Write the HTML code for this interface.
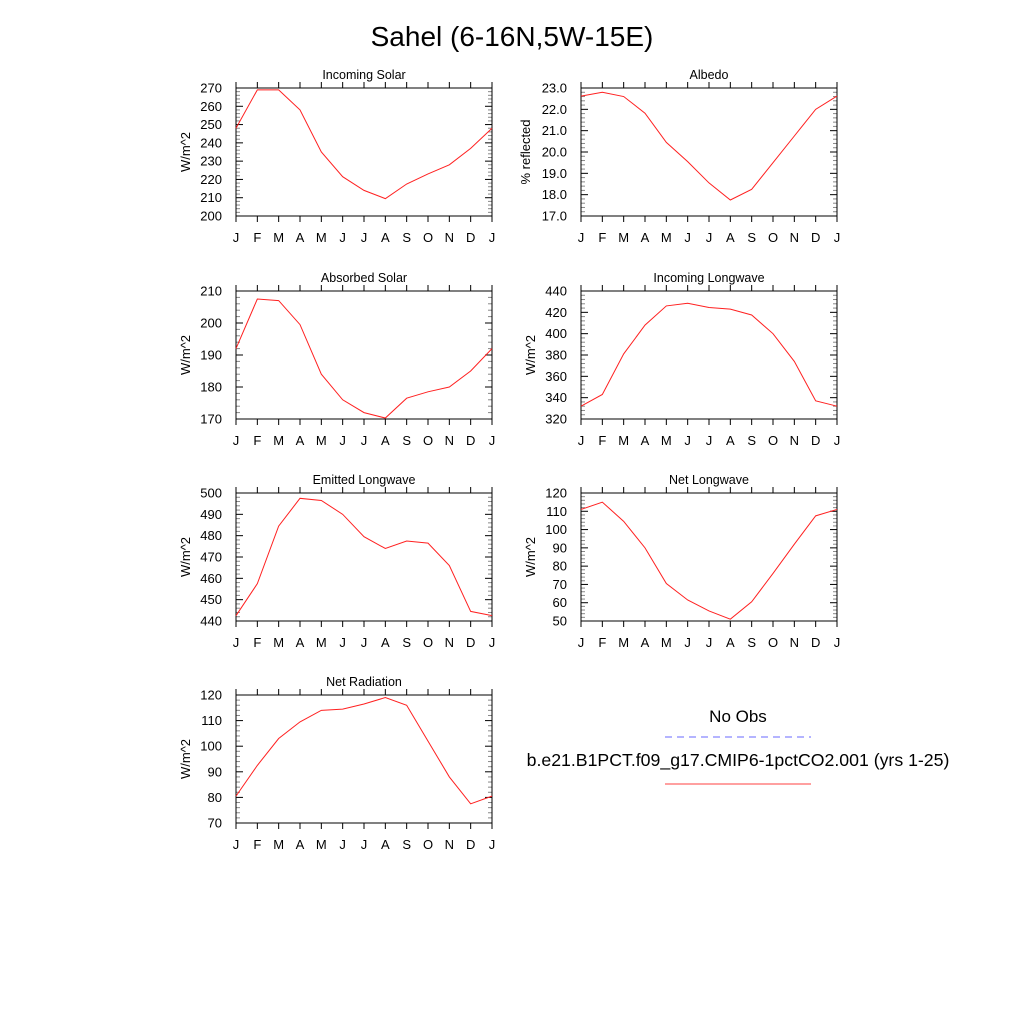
<!DOCTYPE html>
<html><head><meta charset="utf-8"><style>
html,body{margin:0;padding:0;background:#fff;}
svg{display:block;font-family:"Liberation Sans",sans-serif;}
</style></head><body>
<svg id="c" width="1024" height="1024" viewBox="0 0 1024 1024">
<text x="512" y="46" text-anchor="middle" font-size="28">Sahel (6-16N,5W-15E)</text>
<g>
<text x="738" y="722" text-anchor="middle" font-size="17">No Obs</text>
<line x1="665" y1="737" x2="811" y2="737" stroke="#6a6aff" stroke-width="1" stroke-dasharray="7,5"/>
<text x="738" y="766" text-anchor="middle" font-size="17.7">b.e21.B1PCT.f09_g17.CMIP6-1pctCO2.001 (yrs 1-25)</text>
<line x1="665" y1="784" x2="811" y2="784" stroke="#ff4040" stroke-width="1"/>
</g>
</svg>
<script>
const months = ["J","F","M","A","M","J","J","A","S","O","N","D","J"];
const incomingSolar = [248,269,269,258,235,221.5,214,209.5,217.5,223,228,237,248];
const albedo = [22.62,22.8,22.6,21.82,20.45,19.55,18.55,17.75,18.25,19.5,20.75,22.0,22.62];
const absorbedSolar = [192,207.5,207,199.5,184,176,172,170.3,176.5,178.5,180,185,192];
const incomingLW = [332,343,381,408,426,428.5,424.5,423,417.5,400,374,337,332];
const emittedLW = [442.5,457.5,484.5,497.5,496.5,490,479.5,474,477.5,476.5,466,444.5,442.5];
const netLW = [111,115,104.5,90,70.5,61.5,55.5,51,60.5,76,92,107.5,111];
const netRad = [80.5,92.5,103,109.5,114,114.5,116.5,119,116,102,88,77.5,80.5];
const ticksIS = [200,210,220,230,240,250,260,270];
const ticksAlb = [17,18,19,20,21,22,23];
const ticksAbs = [170,180,190,200,210];
const ticksILW = [320,340,360,380,400,420,440];
const ticksELW = [440,450,460,470,480,490,500];
const ticksNLW = [50,60,70,80,90,100,110,120];
const ticksNR = [70,80,90,100,110,120];

const NS="http://www.w3.org/2000/svg";
const svg=document.getElementById('c');
function mk(tag,attrs,parent){const e=document.createElementNS(NS,tag);for(const k in attrs)e.setAttribute(k,attrs[k]);parent.appendChild(e);return e;}

function panel(name,title,ylab,x0,y0,data,ticks,dec){
  const W=256,H=128;
  const g=mk('g',{},svg);
  
  
  const lo=ticks[0],hi=ticks[ticks.length-1];
  const sx=i=>x0+i*W/(months.length-1);
  const sy=v=>y0+H-(v-lo)/(hi-lo)*H;
  const step=ticks[1]-ticks[0];
  for(let k=0;k<ticks.length-1;k++){for(let m=1;m<5;m++){const y=sy(ticks[k]+step*m/5);
    mk('line',{x1:x0,x2:x0+4,y1:y,y2:y,stroke:'#888','stroke-width':1},g);
    mk('line',{x1:x0+W-4,x2:x0+W,y1:y,y2:y,stroke:'#888','stroke-width':1},g);}}
  ticks.forEach(t=>{const y=sy(t);
    mk('line',{x1:x0,x2:x0+7,y1:y,y2:y,stroke:'#000','stroke-width':1},g);
    mk('line',{x1:x0+W-7,x2:x0+W,y1:y,y2:y,stroke:'#000','stroke-width':1},g);
    const tx=mk('text',{x:x0-14,y:y+4.5,'text-anchor':'end','font-size':13},g);
    
    
    tx.textContent=dec?t.toFixed(1):t;});
  months.forEach((mo,i)=>{const x=sx(i);
    mk('line',{x1:x,x2:x,y1:y0-6,y2:y0,stroke:'#000','stroke-width':1},g);
    mk('line',{x1:x,x2:x,y1:y0+H,y2:y0+H+6,stroke:'#000','stroke-width':1},g);
    const tx=mk('text',{x:x,y:y0+H+26,'text-anchor':'middle','font-size':13},g);
    
    
    tx.textContent=mo;});
  const fr=mk('rect',{x:x0,y:y0,width:W,height:H,fill:'none',stroke:'#000','stroke-width':1},g);
  
  
  const pl=mk('polyline',{points:data.map((v,i)=>sx(i)+','+sy(v)).join(' '),fill:'none',stroke:'#ff2020','stroke-width':1},g);
  
  
  const t=mk('text',{x:x0+W/2,y:y0-9,'text-anchor':'middle','font-size':12.5},g);
  
  
  t.textContent=title;
  const yl=mk('text',{x:0,y:0,'text-anchor':'middle','font-size':13,transform:`translate(${x0-(dec?51:46)},${y0+H/2}) rotate(-90)`},g);
  
  
  yl.textContent=ylab;
}
panel('incoming-solar','Incoming Solar','W/m^2',236,88,incomingSolar,ticksIS,false);
panel('albedo','Albedo','% reflected',581,88,albedo,ticksAlb,true);
panel('absorbed-solar','Absorbed Solar','W/m^2',236,291,absorbedSolar,ticksAbs,false);
panel('incoming-longwave','Incoming Longwave','W/m^2',581,291,incomingLW,ticksILW,false);
panel('emitted-longwave','Emitted Longwave','W/m^2',236,493,emittedLW,ticksELW,false);
panel('net-longwave','Net Longwave','W/m^2',581,493,netLW,ticksNLW,false);
panel('net-radiation','Net Radiation','W/m^2',236,695,netRad,ticksNR,false);
</script>
</body></html>
